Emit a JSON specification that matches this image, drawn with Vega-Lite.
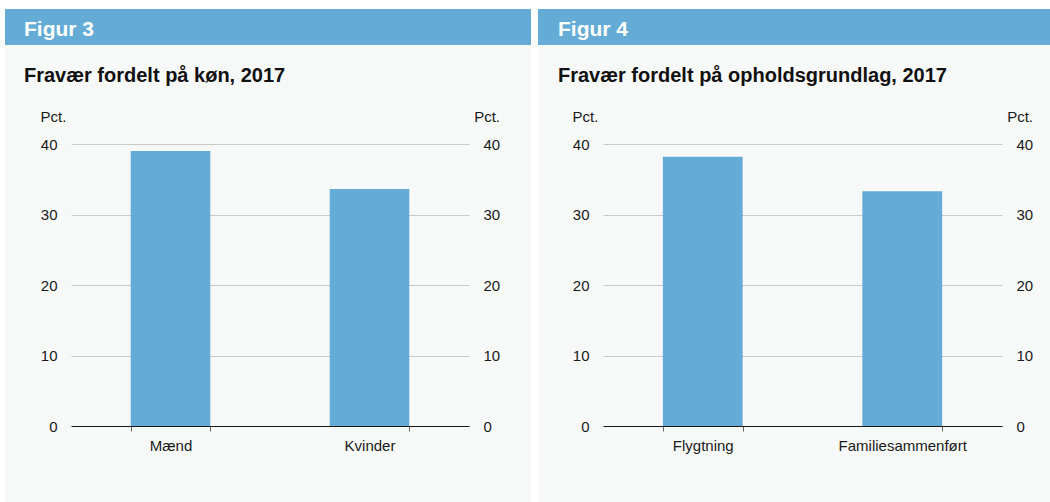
{
  "$schema": "https://vega.github.io/schema/vega-lite/v6.json",
  "background": "white",
  "padding": {"left": 5, "top": 9, "right": 0, "bottom": 0},
  "config": {
    "font": "Liberation Sans",
    "view": {"stroke": null},
    "axis": {
      "labelFont": "Liberation Sans",
      "titleFont": "Liberation Sans",
      "labelFontSize": 15,
      "titleFontSize": 15,
      "labelColor": "#1a1a1a",
      "titleColor": "#1a1a1a",
      "titleFontWeight": "normal"
    }
  },
  "datasets": {
    "fig3": [
      {"kategori": "Mænd", "pct": 39.0},
      {"kategori": "Kvinder", "pct": 33.6}
    ],
    "fig4": [
      {"kategori": "Flygtning", "pct": 38.2},
      {"kategori": "Familiesammenført", "pct": 33.3}
    ]
  },
  "spacing": 7,
  "hconcat": [
    {
      "spacing": 0,
      "vconcat": [
        {
          "width": 526,
          "height": 36,
          "view": {"fill": "#64abd6", "stroke": null},
          "data": {"values": []},
          "mark": "point",
          "title": {"text": "Figur 3", "anchor": "start", "frame": "group", "orient": "top", "offset": -47.5, "dx": 19, "fontSize": 21, "fontWeight": "bold", "color": "white", "baseline": "alphabetic", "font": "Liberation Sans"}
        },
        {
          "width": 526,
          "height": 457,
          "view": {"fill": "#f7f8f8", "stroke": null},
          "data": {"name": "fig3"},
          "title": {"text": "Fravær fordelt på køn, 2017", "anchor": "start", "frame": "group", "orient": "top", "offset": -57, "dx": 19, "fontSize": 20, "fontWeight": "bold", "color": "#111111", "baseline": "alphabetic", "font": "Liberation Sans"},
          "encoding": {
            "x": {
              "field": "kategori", "type": "nominal", "sort": null,
              "scale": {"range": [66, 464], "paddingInner": 0.6, "paddingOuter": 0.3},
              "axis": {"orient": "bottom", "offset": -76, "title": null, "labelAngle": 0, "tickBand": "extent", "tickSize": 5, "tickColor": "#666666", "domainColor": "#1a1a1a", "domainWidth": 1, "labelPadding": 7, "zindex": 1, "grid": false}
            }
          },
          "layer": [
            {
              "mark": {"type": "bar", "color": "#64abd6"},
              "encoding": {
                "y": {
                  "field": "pct", "type": "quantitative",
                  "scale": {"domain": [0, 40], "range": [381, 99]},
                  "axis": {"orient": "left", "offset": -66, "values": [0, 10, 20, 30, 40], "grid": true, "gridColor": "#c9c9c9", "gridWidth": 1, "ticks": false, "domain": false, "labelPadding": 14, "title": "Pct.", "titleAngle": 0, "titleAlign": "left", "titleBaseline": "alphabetic", "titleX": -31, "titleY": 76}
                }
              }
            },
            {
              "mark": {"type": "bar", "opacity": 0},
              "encoding": {
                "y": {
                  "field": "pct", "type": "quantitative",
                  "scale": {"domain": [0, 40], "range": [381, 99]},
                  "axis": {"orient": "right", "offset": -62, "values": [0, 10, 20, 30, 40], "grid": false, "ticks": false, "domain": false, "labelPadding": 14, "title": "Pct.", "titleAngle": 0, "titleAlign": "right", "titleBaseline": "alphabetic", "titleX": 30.5, "titleY": 76}
                }
              }
            }
          ],
          "resolve": {"axis": {"y": "independent"}}
        }
      ]
    },
    {
      "spacing": 0,
      "vconcat": [
        {
          "width": 512,
          "height": 36,
          "view": {"fill": "#64abd6", "stroke": null},
          "data": {"values": []},
          "mark": "point",
          "title": {"text": "Figur 4", "anchor": "start", "frame": "group", "orient": "top", "offset": -47.5, "dx": 20, "fontSize": 21, "fontWeight": "bold", "color": "white", "baseline": "alphabetic", "font": "Liberation Sans"}
        },
        {
          "width": 512,
          "height": 457,
          "view": {"fill": "#f7f8f8", "stroke": null},
          "data": {"name": "fig4"},
          "title": {"text": "Fravær fordelt på opholdsgrundlag, 2017", "anchor": "start", "frame": "group", "orient": "top", "offset": -57, "dx": 20, "fontSize": 20, "fontWeight": "bold", "color": "#111111", "baseline": "alphabetic", "font": "Liberation Sans"},
          "encoding": {
            "x": {
              "field": "kategori", "type": "nominal", "sort": null,
              "scale": {"range": [65, 464], "paddingInner": 0.6, "paddingOuter": 0.3},
              "axis": {"orient": "bottom", "offset": -76, "title": null, "labelAngle": 0, "tickBand": "extent", "tickSize": 5, "tickColor": "#666666", "domainColor": "#1a1a1a", "domainWidth": 1, "labelPadding": 7, "zindex": 1, "grid": false}
            }
          },
          "layer": [
            {
              "mark": {"type": "bar", "color": "#64abd6"},
              "encoding": {
                "y": {
                  "field": "pct", "type": "quantitative",
                  "scale": {"domain": [0, 40], "range": [381, 99]},
                  "axis": {"orient": "left", "offset": -65, "values": [0, 10, 20, 30, 40], "grid": true, "gridColor": "#c9c9c9", "gridWidth": 1, "ticks": false, "domain": false, "labelPadding": 14, "title": "Pct.", "titleAngle": 0, "titleAlign": "left", "titleBaseline": "alphabetic", "titleX": -31, "titleY": 76}
                }
              }
            },
            {
              "mark": {"type": "bar", "opacity": 0},
              "encoding": {
                "y": {
                  "field": "pct", "type": "quantitative",
                  "scale": {"domain": [0, 40], "range": [381, 99]},
                  "axis": {"orient": "right", "offset": -48, "values": [0, 10, 20, 30, 40], "grid": false, "ticks": false, "domain": false, "labelPadding": 14, "title": "Pct.", "titleAngle": 0, "titleAlign": "right", "titleBaseline": "alphabetic", "titleX": 30.5, "titleY": 76}
                }
              }
            }
          ],
          "resolve": {"axis": {"y": "independent"}}
        }
      ]
    }
  ]
}
